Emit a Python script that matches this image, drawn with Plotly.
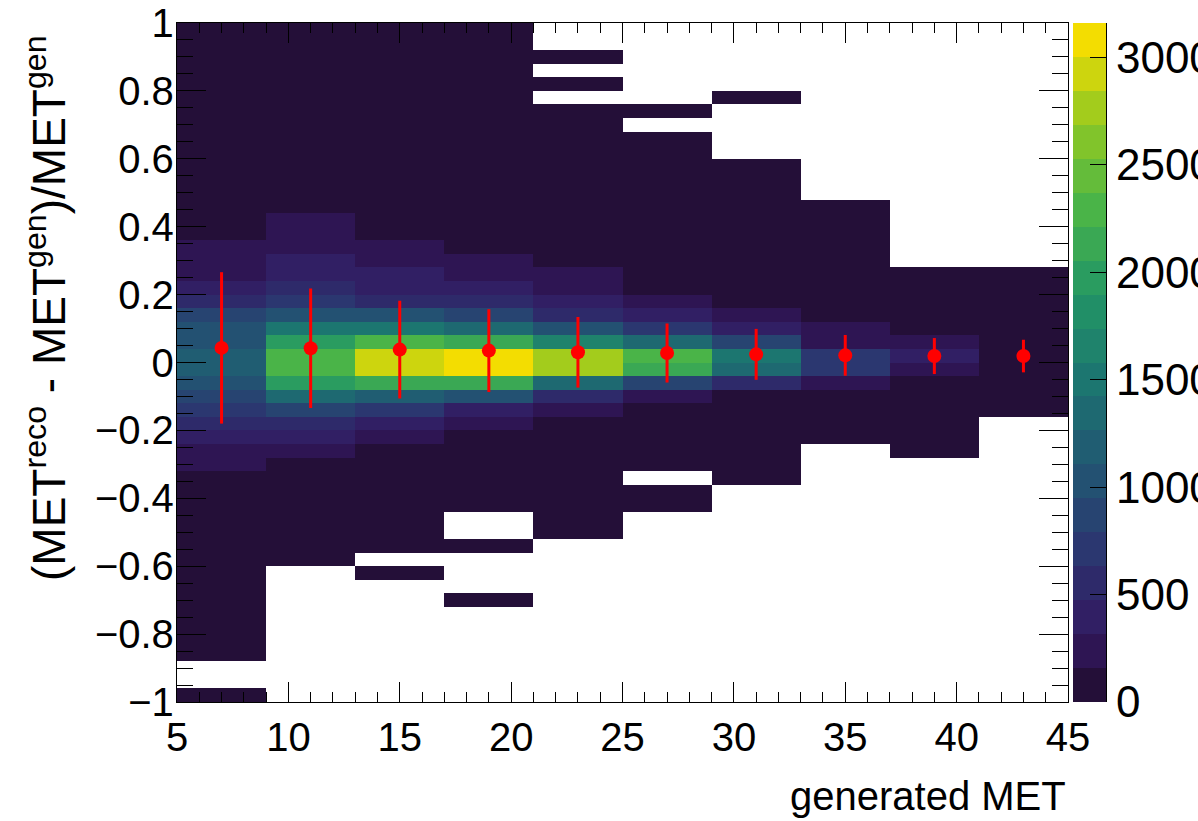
import math
import numpy as np
import plotly.graph_objects as go

# ---------------- data ----------------
# x bins: generated MET (bin edges), y bins: (reco-gen)/gen (bin edges)
x_edges = [5, 9, 13, 17, 21, 25, 29, 33, 37, 41, 45]
y_edges = [round(-1 + 0.04 * i, 2) for i in range(51)]

# bin contents per x-bin column, listed from the lowest y bin (-1..-0.96) up to (0.96..1); None = empty
col_05_09 = [6, None, None, 9, 11, 13, 15, 18, 22, 27, 33, 41, 52, 66, 84, 105, 130,
             240, 240, 400, 550, 710, 870, 1030, 1190, 1190, 1030, 1030, 870, 550, 400, 240, 240, 240,
             140, 115, 92, 74, 60, 49, 40, 33, 28, 24, 20, 17, 15, 13, 11, 24]
col_09_13 = [None] * 10 + [5, 7, 10, 14, 20, 30, 48, 80,
             240, 400, 550, 870, 1340, 1970, 2290, 2290, 1970, 1500, 1030, 710, 550, 400, 400, 240, 240, 240,
             130, 100, 80, 64, 52, 43, 36, 30, 25, 21, 18, 15, 13, 22]
col_13_17 = [None] * 9 + [4, None, 6, 9, 13, 19, 28, 42, 66, 105,
             240, 400, 710, 1190, 2130, 2920, 2920, 2290, 1500, 1030, 550, 400, 400, 240, 240,
             145, 115, 90, 72, 58, 47, 39, 32, 27, 23, 19, 16, 14, 12, 10, 20]
col_17_21 = [None] * 7 + [3, None, None, None, 4, None, None, 8, 14, 24, 40, 70, 120,
             240, 400, 1030, 2130, 3160, 3160, 2130, 1340, 870, 550, 400, 240, 240,
             150, 120, 95, 75, 60, 48, 39, 32, 27, 22, 19, 16, 14, 12, 10, 9, 16]
col_21_25 = [None] * 12 + [3, 5, 8, 12, 18, 28, 45, 75, 125,
             240, 550, 1340, 2770, 2770, 1660, 1030, 550, 400, 240, 240,
             140, 105, 80, 60, 46, 35, 27, 21, 16, 12, 9, 7, None, 3, None, 2, None, None]
col_25_29 = [None] * 14 + [3, 5, None, 9, 18, 35, 65, 120,
             240, 870, 2130, 2290, 1340, 710, 400, 240,
             130, 95, 70, 52, 38, 28, 20, 14, 10, 7, 5, 4, None, 2] + [None] * 6
col_29_33 = [None] * 16 + [4, 7, 12, 22, 40, 75, 130,
             550, 1340, 1500, 870, 400, 240,
             135, 95, 68, 48, 34, 24, 16, 11, 8, 5, 3, None, None, None, None, 2] + [None] * 5
col_33_37 = [None] * 19 + [6, 14, 35, 85, 240, 710, 710, 300, 240,
             130, 80, 50, 32, 20, 13, 8, 5, 3] + [None] * 13
col_37_41 = [None] * 18 + [3, 6, 12, 28, 60, 120, 240, 400, 240, 110, 55, 25, 11, 5] + [None] * 18
col_41_45 = [None] * 21 + [8, 20, 45, 85, 130, 150, 110, 55, 25, 11, 5] + [None] * 18

columns = [col_05_09, col_09_13, col_13_17, col_17_21, col_21_25,
           col_25_29, col_29_33, col_33_37, col_37_41, col_41_45]

# profile (mean and spread per x bin)
prof_x = [7, 11, 15, 19, 23, 27, 31, 35, 39, 43]
prof_mean = [0.043, 0.042, 0.038, 0.035, 0.030, 0.028, 0.024, 0.021, 0.019, 0.019]
prof_err = [0.223, 0.176, 0.144, 0.122, 0.104, 0.087, 0.075, 0.060, 0.053, 0.048]

cbar_ticks = [0, 500, 1000, 1500, 2000, 2500, 3000]

x_title = "generated MET"
y_title = "(MET<sup>reco</sup> - MET<sup>gen</sup>)/MET<sup>gen</sup>"

# ---------------- palette (ROOT kViridis, 20 contours) ----------------
stops = [0.0, 0.125, 0.25, 0.375, 0.5, 0.625, 0.75, 0.875, 1.0]
R = [26, 51, 43, 33, 28, 35, 74, 144, 246]
G = [9, 24, 55, 87, 118, 150, 180, 200, 222]
B = [30, 96, 112, 114, 112, 101, 72, 35, 0]
ncol = 255
pal = []
for g in range(1, 9):
    n = int(math.floor(ncol * stops[g]) - math.floor(ncol * stops[g - 1]))
    for c in range(n):
        pal.append((R[g - 1] + c * (R[g] - R[g - 1]) / n,
                    G[g - 1] + c * (G[g] - G[g - 1]) / n,
                    B[g - 1] + c * (B[g] - B[g - 1]) / n))
ncont = 20
lev_cols = []
for i in range(ncont):
    r, gg, b = pal[min(int((i + 0.99) * ncol / ncont), ncol - 1)]
    lev_cols.append(f"rgb({round(r)},{round(gg)},{round(b)})")
cscale = []
for i, c in enumerate(lev_cols):
    cscale.append([i / ncont, c])
    cscale.append([(i + 1) / ncont, c])

# ---------------- figure ----------------
z = [[columns[j][k] for j in range(len(columns))] for k in range(len(y_edges) - 1)]
zmax = max(v for col in columns for v in col if v is not None)

W, H = 1198, 821
L, Rm, T, Bm = 177, 92, 23, 119
plot_w = W - L - Rm
main_right = 1068 - L
cb_left = 1073 - L

FONT = "Liberation Sans, Arial, Helvetica, sans-serif"
TICKSIZE = 40

fig = go.Figure()
fig.add_trace(go.Heatmap(x=x_edges, y=y_edges, z=z, colorscale=cscale, zmin=0, zmax=zmax,
                         showscale=False, hoverongaps=False, xaxis="x", yaxis="y"))
fig.add_trace(go.Scatter(x=prof_x, y=prof_mean, mode="markers",
                         marker=dict(color="#ff0000", size=14),
                         error_y=dict(type="data", array=prof_err, thickness=3, width=0, color="#ff0000"),
                         xaxis="x", yaxis="y", showlegend=False))

# palette bar
cb_edges = list(np.linspace(0, zmax, ncont + 1))
cb_mid = [[(cb_edges[i] + cb_edges[i + 1]) / 2] for i in range(ncont)]
fig.add_trace(go.Heatmap(x=[0, 1], y=cb_edges, z=cb_mid, colorscale=cscale, zmin=0, zmax=zmax,
                         showscale=False, xaxis="x2", yaxis="y2", hoverinfo="skip"))

axcommon = dict(showgrid=False, zeroline=False, showline=True, linecolor="black", linewidth=1.3,
                ticks="inside", tickcolor="black", tickwidth=1.3, automargin=False)

fig.update_layout(
    width=W, height=H,
    margin=dict(l=L, r=Rm, t=T, b=Bm, pad=0, autoexpand=False),
    paper_bgcolor="white", plot_bgcolor="white",
    showlegend=False,
    xaxis=dict(domain=[0, main_right / plot_w], range=[5, 45], tick0=5, dtick=5, ticklen=20,
               mirror="ticks", anchor="y",
               tickfont=dict(family=FONT, size=TICKSIZE, color="black"),
               minor=dict(dtick=1, ticklen=10, ticks="inside", tickcolor="black", tickwidth=1.3),
               **axcommon),
    yaxis=dict(range=[-1, 1], tick0=-1, dtick=0.2, ticklen=29, mirror="ticks", anchor="x",
               ticklabelstandoff=-6,
               tickfont=dict(family=FONT, size=TICKSIZE, color="black"),
               minor=dict(dtick=0.05, ticklen=16, ticks="inside", tickcolor="black", tickwidth=1.3),
               **axcommon),
    xaxis2=dict(domain=[cb_left / plot_w, 1], range=[0, 1], visible=False, anchor="y2",
                automargin=False),
    yaxis2=dict(range=[0, zmax], tickvals=cbar_ticks, ticklen=16, side="right", anchor="x2",
                tickfont=dict(family=FONT, size=44, color="black"),
                **axcommon),
)

fig.add_annotation(text=x_title, xref="paper", yref="paper", x=main_right / plot_w, y=0,
                   xanchor="right", yanchor="top", yshift=-70, showarrow=False,
                   font=dict(family=FONT, size=40, color="black"))
fig.add_annotation(text=y_title, xref="paper", yref="paper", x=(46 - L) / plot_w, y=1,
                   xanchor="center", yanchor="top", yshift=-10, textangle=-90, showarrow=False,
                   font=dict(family=FONT, size=46, color="black"))

fig.write_html("out.html")
